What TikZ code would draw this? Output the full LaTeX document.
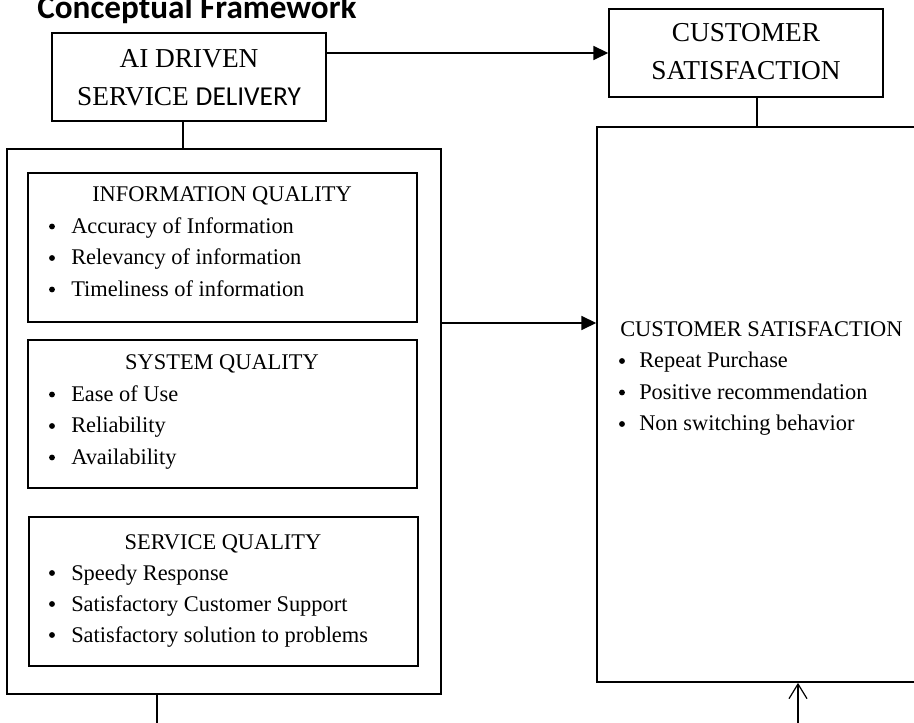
\documentclass[tikz,border=0pt]{standalone}
\usepackage{fontspec}
\setmainfont{Liberation Serif}
\newfontfamily\calibri{Carlito}
\usetikzlibrary{arrows.meta,fit}

% one bullet line: name, bullet x, text x, baseline y, text
\newcommand\listentry[5]{%
  \node[dot] (#1b) at (#2,#4-7) {};
  \node[entry] (#1) at (#3,#4) {#5};}

\begin{document}
\begin{tikzpicture}[x=0.75pt,y=-0.75pt,
  box/.style={draw,line width=1.3pt,inner sep=0pt},
  link/.style={line width=1.2pt},
  head/.style={font=\fontsize{16.8}{20}\selectfont,anchor=base,inner sep=0pt},
  entry/.style={font=\fontsize{16.8}{20}\selectfont,anchor=base west,inner sep=0pt},
  dot/.style={circle,fill,inner sep=0pt,minimum size=4.4pt},
  big/.style={font=\fontsize{20.5}{24}\selectfont,anchor=base,inner sep=0pt},
  solidtip/.style={-{Triangle[length=11pt,width=10.5pt]}},
  opentip/.style={-{Straight Barb[length=11pt,width=13.5pt,line width=0.9pt]}}
]
\clip (0,0) rectangle (914,723);

% heading
\node[font=\calibri\bfseries\fontsize{24.9}{28}\selectfont,anchor=base west,inner sep=0pt]
  (title) at (37,19) {Conceptual Framework};

% top boxes
\node[box,fit={(52,33) (326,121)}] (ai) {};
\node[big] (ai1) at (189,68) {AI DRIVEN};
\node[big] (ai2) at (189,106) {SERVICE {\calibri DELIVERY}};

\node[box,fit={(609,9) (883,97)}] (cust) {};
\node[big] (cs1) at (746,42) {CUSTOMER};
\node[big] (cs2) at (746,80) {SATISFACTION};

% left block with its three dimensions
\node[box,fit={(7,149) (441,694)}] (outer) {};

\node[box,fit={(28,173) (417,322)}] (info) {};
\node[head] (infoh) at (222,202) {INFORMATION QUALITY};
\listentry{ia}{52}{71}{233.5}{Accuracy of Information}
\listentry{ib}{52}{71}{265}{Relevancy of information}
\listentry{ic}{52}{71}{296.5}{Timeliness of information}

\node[box,fit={(28,340) (417,488)}] (sys) {};
\node[head] (sysh) at (222,370) {SYSTEM QUALITY};
\listentry{sa}{52}{71}{401.5}{Ease of Use}
\listentry{sb}{52}{71}{433}{Reliability}
\listentry{sc}{52}{71}{464.5}{Availability}

\node[box,fit={(29,517) (418,666)}] (serv) {};
\node[head] (servh) at (223,549) {SERVICE QUALITY};
\listentry{va}{52}{71}{580}{Speedy Response}
\listentry{vb}{52}{71}{611}{Satisfactory Customer Support}
\listentry{vc}{52}{71}{642}{Satisfactory solution to problems}

% right block
\node[box,fit={(597,127) (940,682)}] (right) {};
\node[entry] (righth) at (620,336.5) {CUSTOMER SATISFACTION};
\listentry{ra}{622}{639}{368}{Repeat Purchase}
\listentry{rb}{622}{639}{399.5}{Positive recommendation}
\listentry{rc}{622}{639}{431}{Non switching behavior}

% connectors
\coordinate (aix) at (183,0);
\coordinate (csx) at (757,0);
\coordinate (midy) at (0,323);
\coordinate (downend) at (157,723);
\coordinate (upstart) at (798,723);

\draw[link,solidtip] (ai.east |- cust.west) -- (cust.west);
\draw[link] (aix |- ai.south) -- (aix |- outer.north);
\draw[link] (csx |- cust.south) -- (csx |- right.north);
\draw[link,solidtip] (outer.east |- midy) -- (right.west |- midy);
\draw[link] (downend |- outer.south) -- (downend);
\draw[link,opentip] (upstart) -- (upstart |- right.south);
\end{tikzpicture}
\end{document}
